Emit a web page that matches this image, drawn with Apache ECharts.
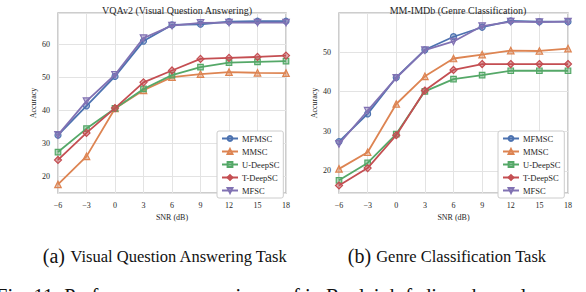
<!DOCTYPE html>
<html><head><meta charset="utf-8">
<script src="https://cdn.jsdelivr.net/npm/echarts@6/dist/echarts.min.js"></script>
<style>html,body{margin:0;padding:0;background:#fff}#c{width:586px;height:292px}</style>
</head><body><div id="c"></div>
<script>
const snr = [-6, -3, 0, 3, 6, 9, 12, 15, 18];
const seriesNames = ['MFMSC', 'MMSC', 'U-DeepSC', 'T-DeepSC', 'MFSC'];
// VQAv2
const vqaMFMSC = [32.5, 41.4, 50.3, 61.0, 65.9, 66.1, 66.9, 67.0, 67.0];
const vqaMMSC = [17.6, 26.1, 40.6, 46.1, 50.1, 51.0, 51.6, 51.4, 51.3];
const vqaUDeepSC = [27.4, 34.5, 40.6, 46.5, 50.7, 53.1, 54.5, 54.7, 54.9];
const vqaTDeepSC = [25.0, 33.2, 40.7, 48.5, 52.1, 55.6, 55.9, 56.2, 56.6];
const vqaMFSC = [32.6, 42.8, 50.8, 61.9, 65.7, 66.5, 66.6, 66.6, 66.6];
// MM-IMDb
const imdbMFMSC = [27.4, 34.4, 43.6, 50.6, 53.9, 56.3, 57.9, 57.7, 57.7];
const imdbMMSC = [20.5, 24.7, 36.9, 43.9, 48.4, 49.4, 50.4, 50.3, 50.9];
const imdbUDeepSC = [17.6, 22.0, 29.3, 40.1, 43.2, 44.2, 45.3, 45.3, 45.3];
const imdbTDeepSC = [16.3, 20.7, 29.0, 40.3, 45.5, 47.0, 47.0, 47.0, 47.0];
const imdbMFSC = [26.8, 35.2, 43.5, 50.5, 52.7, 56.6, 57.7, 57.6, 57.7];

const titles = ['VQAv2 (Visual Question Answering)', 'MM-IMDb (Genre Classification)'];
const captions = [['(a)', 'Visual Question Answering Task'], ['(b)', 'Genre Classification Task']];
const figCaption = 'Fig. 11: Performance comparisons of in Rayleigh fading channels.';

const colors = ['#4C72B0', '#DD8452', '#55A868', '#C44E52', '#8172B3'];
const fills = ['rgba(76,114,176,0.45)', 'rgba(221,132,82,0.45)', 'rgba(85,168,104,0.45)', 'rgba(196,78,82,0.45)', 'rgba(129,114,179,0.45)'];
const symbols = ['circle', 'triangle', 'rect', 'diamond', 'triangle'];
const symRot = [0, 0, 0, 0, 180];
const symSize = [6, 6.5, 5.5, 7, 6.5];

const FONT = '"Liberation Serif", "DejaVu Serif", serif';
const fmt = v => (v < 0 ? '\u2212' + Math.abs(v) : String(v));

const grids = [
  {left: 58, top: 13, width: 228, height: 180},
  {left: 339, top: 13, width: 229, height: 180}
];
const yRanges = [[15, 69.5], [14.4, 59.9]];

function xAxis(i) {
  return {
    type: 'value', gridIndex: i, min: -6, max: 18, interval: 3,
    name: 'SNR (dB)', nameLocation: 'middle', nameGap: 18,
    nameTextStyle: {fontFamily: FONT, fontSize: 8, color: '#262626'},
    axisLine: {show: false}, axisTick: {show: false},
    axisLabel: {formatter: fmt, fontFamily: FONT, fontSize: 8, color: '#262626', margin: 8},
    splitLine: {show: true, lineStyle: {color: '#e3e3e3', width: 1}}
  };
}
function yAxis(i) {
  return {
    type: 'value', gridIndex: i, min: yRanges[i][0], max: yRanges[i][1], splitNumber: 5,
    name: 'Accuracy', nameLocation: 'middle', nameGap: 21, nameRotate: 90,
    nameTextStyle: {fontFamily: FONT, fontSize: 8, color: '#262626'},
    axisLine: {show: false}, axisTick: {show: false},
    axisLabel: {fontFamily: FONT, fontSize: 8, color: '#262626', margin: 8, showMinLabel: false, showMaxLabel: false,
      formatter: v => (Math.abs(v % 10) < 1e-6 ? String(v) : '')},
    splitLine: {show: true, lineStyle: {color: '#e3e3e3', width: 1}}
  };
}

const dataSets = [
  [vqaMFMSC, vqaMMSC, vqaUDeepSC, vqaTDeepSC, vqaMFSC],
  [imdbMFMSC, imdbMMSC, imdbUDeepSC, imdbTDeepSC, imdbMFSC]
];
const series = [];
dataSets.forEach((set, gi) => {
  set.forEach((vals, si) => {
    series.push({
      name: seriesNames[si], type: 'line', xAxisIndex: gi, yAxisIndex: gi,
      data: snr.map((x, k) => [x, vals[k]]),
      symbol: symbols[si], symbolRotate: symRot[si], symbolSize: symSize[si], showAllSymbol: true,
      lineStyle: {color: colors[si], width: 1.8},
      itemStyle: {color: fills[si], borderColor: colors[si], borderWidth: 1.2},
      emphasis: {disabled: true}, animation: false, z: 2 + si
    });
  });
});

function legend(left) {
  return {
    orient: 'vertical', left: left, top: 131, data: seriesNames,
    itemWidth: 16, itemHeight: 6, itemGap: 4,
    backgroundColor: '#fff', borderColor: '#cccccc', borderWidth: 1, borderRadius: 2,
    padding: [3, 4, 3, 4],
    textStyle: {fontFamily: FONT, fontSize: 8.5, color: '#262626', padding: [0, 0, 0, -1]},
    selectedMode: false
  };
}

const capRich = {
  a: {fontFamily: FONT, fontSize: 20, fontWeight: 'normal', color: '#111'},
  b: {fontFamily: FONT, fontSize: 16.5, fontWeight: 'normal', color: '#111'}
};

const option = {
  animation: false,
  backgroundColor: '#fff',
  title: [
    {text: titles[0], left: 172, top: 0, textAlign: 'center', textStyle: {fontFamily: FONT, fontSize: 10, fontWeight: 'normal', color: '#262626'}},
    {text: titles[1], left: 453, top: 0, textAlign: 'center', textStyle: {fontFamily: FONT, fontSize: 10, fontWeight: 'normal', color: '#262626'}},
    {text: '{a|' + captions[0][0] + '} {b|' + captions[0][1] + '}', left: 160, top: 241, textAlign: 'center',
      textStyle: {fontWeight: 'normal', rich: capRich}},
    {text: '{a|' + captions[1][0] + '} {b|' + captions[1][1] + '}', left: 442, top: 241, textAlign: 'center',
      textStyle: {fontWeight: 'normal', rich: capRich}},
    {text: figCaption, left: -9, top: 280, textStyle: {fontFamily: FONT, fontSize: 20.5, fontWeight: 'normal', color: '#111'}}
  ],
  grid: grids.map(g => Object.assign({show: true, borderColor: '#bdbdbd', borderWidth: 1.5, backgroundColor: '#fff'}, g)),
  xAxis: [xAxis(0), xAxis(1)],
  yAxis: [yAxis(0), yAxis(1)],
  legend: [legend(217), legend(498)],
  series: series
};
const chart = echarts.init(document.getElementById('c'), null, {renderer: 'svg'});
chart.setOption(option);
</script>
</body></html>
